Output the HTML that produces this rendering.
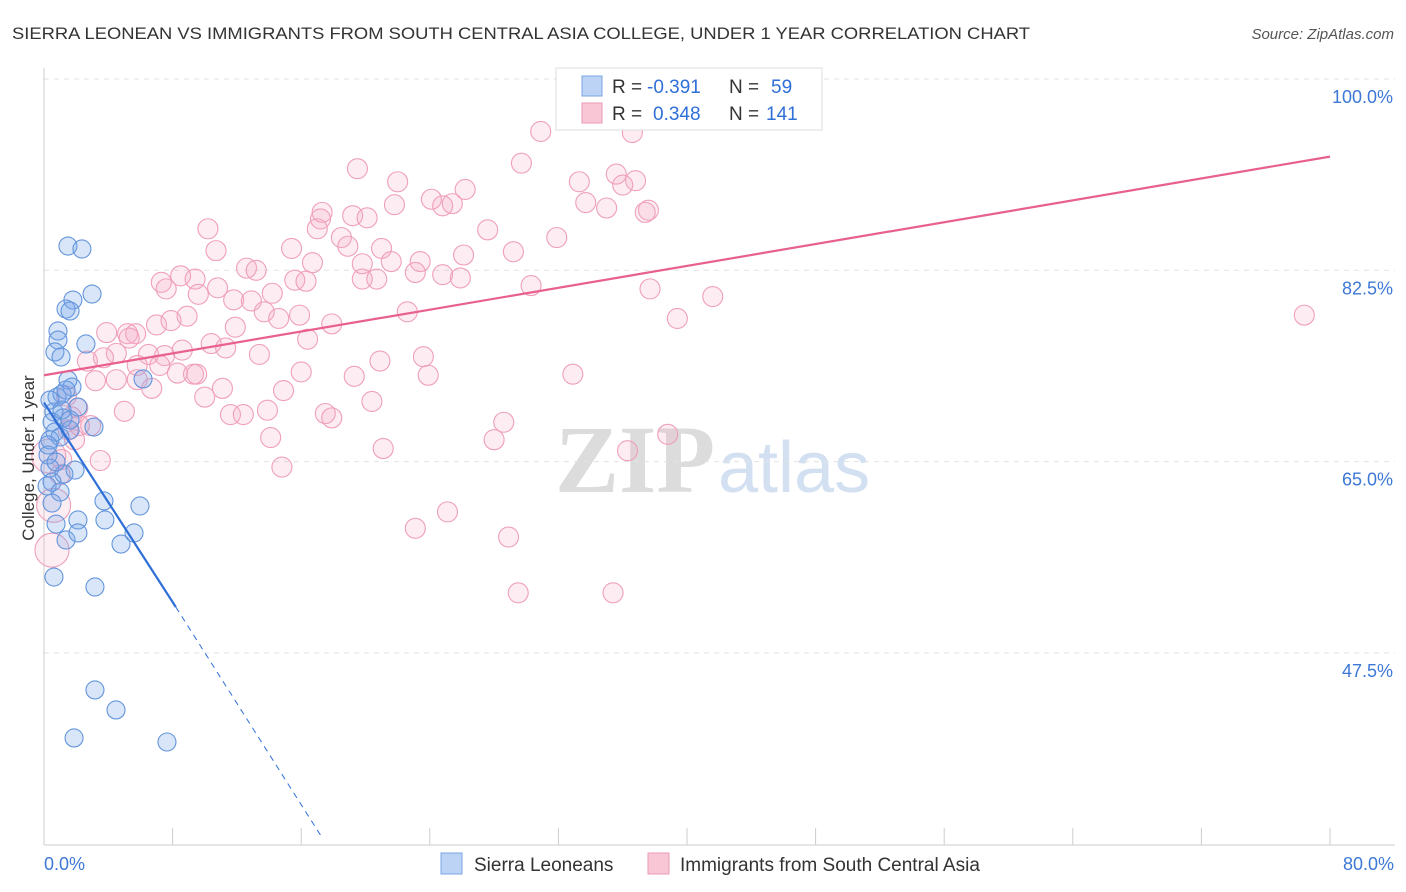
<!DOCTYPE html>
<html><head><meta charset="utf-8"><style>
body{margin:0;background:#fff;font-family:"Liberation Sans",sans-serif}
svg{display:block}
</style></head><body>
<svg id="chart" width="1406" height="892" viewBox="0 0 1406 892" xmlns="http://www.w3.org/2000/svg">
<text x="12" y="39" font-size="17" fill="#333" textLength="1018" lengthAdjust="spacingAndGlyphs">SIERRA LEONEAN VS IMMIGRANTS FROM SOUTH CENTRAL ASIA COLLEGE, UNDER 1 YEAR CORRELATION CHART</text>
<text x="1394" y="39" font-size="15" fill="#555" font-style="italic" text-anchor="end">Source: ZipAtlas.com</text>
<g>
<text x="555" y="492" font-size="96" font-family="Liberation Serif,serif" fill="#dcdcdc" font-weight="bold">ZIP</text>
<text x="718" y="492" font-size="72" fill="#d3e0f2">atlas</text>
</g>
<g id="grid"></g>
<g id="axes"></g>
<g id="pink"></g>
<g id="blue"></g>
<g id="lines"></g>
<text transform="translate(34,458) rotate(-90)" font-size="17" fill="#333" text-anchor="middle">College, Under 1 year</text>
<g>
<rect x="556" y="68" width="266" height="62" fill="#fff" stroke="#ddd"/>
<rect x="582" y="76" width="20" height="20" fill="#bcd3f5" stroke="#7aa5e3"/>
<rect x="582" y="103" width="20" height="20" fill="#f9c6d6" stroke="#eb9ab4"/>
<text x="612" y="93" font-size="19" fill="#333">R =</text>
<text x="647" y="93" font-size="19" fill="#2f6fd8">-0.391</text>
<text x="729" y="93" font-size="19" fill="#333">N =</text>
<text x="771" y="93" font-size="19" fill="#2f6fd8">59</text>
<text x="612" y="120" font-size="19" fill="#333">R =</text>
<text x="653" y="120" font-size="19" fill="#2f6fd8">0.348</text>
<text x="729" y="120" font-size="19" fill="#333">N =</text>
<text x="766" y="120" font-size="19" fill="#2f6fd8">141</text>
</g>
<g>
<rect x="441" y="853" width="21" height="21" fill="#bcd3f5" stroke="#7aa5e3"/>
<text x="474" y="871" font-size="19" fill="#333">Sierra Leoneans</text>
<rect x="648" y="853" width="21" height="21" fill="#f9c6d6" stroke="#eb9ab4"/>
<text x="680" y="871" font-size="19" fill="#333">Immigrants from South Central Asia</text>
</g>
</svg>
<script>
const yTicks=[100,82.5,65,47.5];
const yTickLabels=["100.0%","82.5%","65.0%","47.5%"];
const xTickLabels=["0.0%","80.0%"];
const blueX=[1.49,2.36,2.99,1.80,1.37,1.62,0.87,0.87,2.61,0.68,1.06,1.49,1.74,0.81,1.12,2.11,0.62,1.18,0.50,3.11,0.68,1.00,1.62,0.37,0.25,1.93,0.37,1.24,0.50,3.73,5.97,0.75,2.11,3.79,1.37,2.11,4.79,5.60,0.62,3.17,3.17,4.48,1.87,7.65,6.16,0.19,1.00,0.37,1.37,0.25,0.75,1.12,1.62,0.50];
const blueY=[84.72,84.45,80.33,79.78,78.96,78.78,76.95,76.12,75.76,75.03,74.57,72.46,71.82,70.91,71.18,69.99,69.54,68.99,68.62,68.16,67.71,67.25,67.89,66.98,65.60,64.23,64.41,63.87,63.13,61.40,60.94,59.29,59.66,59.66,57.83,58.47,57.46,58.47,54.44,53.53,44.11,42.28,39.72,39.35,72.56,62.77,62.22,70.63,71.55,66.52,64.96,69.72,68.81,61.21];
const pinkX=[30.9,36.6,29.7,19.5,35.6,22.0,33.3,36.8,26.2,36.0,24.1,25.4,24.8,21.8,33.7,35.0,37.6,37.4,17.3,17.2,19.2,20.1,17.0,10.2,27.6,18.5,31.9,18.9,15.4,10.7,21.0,29.2,26.1,23.4,16.7,19.8,21.6,12.6,13.2,8.5,7.3,9.4,24.8,25.9,23.1,15.6,16.3,19.8,20.7,7.6,9.6,30.3,37.7,41.6,10.8,11.8,14.2,12.9,8.9,7.0,7.9,13.7,14.6,15.9,17.9,22.6,39.4,78.4,11.9,3.9,5.2,5.7,5.3,10.4,11.3,8.6,16.4,4.5,6.5,7.5,13.4,3.7,2.7,5.8,20.9,23.6,7.2,8.3,9.5,9.3,16.0,19.3,23.9,32.9,3.2,4.5,5.8,6.7,11.1,10.0,14.9,20.4,5.0,11.6,12.4,13.9,17.5,17.9,28.6,2.1,2.9,1.7,1.5,14.1,28.0,38.8,21.1,36.3,3.5,1.1,1.0,14.8,25.1,23.1,28.9,29.5,35.4,1.4,2.2,1.9];
const pinkY=[95.2,95.1,92.3,91.8,91.3,90.6,90.6,90.7,89.9,90.3,89.0,88.6,88.4,88.5,88.7,88.2,88.0,87.8,87.8,87.2,87.5,87.3,86.3,86.3,86.2,85.5,85.5,84.7,84.5,84.3,84.5,84.2,83.9,83.3,83.2,83.1,83.3,82.7,82.5,82.0,81.4,81.7,82.1,81.8,82.3,81.6,81.5,81.7,81.7,80.8,80.3,81.1,80.8,80.1,80.9,79.8,80.4,79.7,78.3,77.5,77.9,78.7,78.1,78.4,77.6,78.7,78.1,78.4,77.3,76.8,76.7,76.7,76.3,75.8,75.4,75.2,76.2,74.9,74.8,74.7,74.8,74.5,74.2,73.8,74.2,74.6,73.8,73.1,73.0,73.0,73.2,72.8,72.9,73.0,72.4,72.5,72.5,71.7,71.7,70.9,71.5,70.5,69.6,69.3,69.3,69.7,69.4,69.0,68.6,69.9,68.3,69.1,67.9,67.2,67.0,67.5,66.2,66.0,65.1,65.2,63.8,64.5,60.4,58.9,58.1,53.0,53.0,71.0,68.3,67.0];
const bigPinkX=[0.6,0.5,0.3];
const bigPinkY=[61.0,56.9,65.5];
const pinkTrend=[[0,72.9],[80,92.9]];
const blueTrend=[[0,70.4],[8.2,51.7]];
const blueTrendExt=[[8.2,51.7],[17.3,30.6]];

const NS="http://www.w3.org/2000/svg";
const sx=v=>44+v*(1286/80);
const sy=v=>79+(100-v)*(191.3/17.5);
function mk(tag,attrs,parent){const e=document.createElementNS(NS,tag);for(const k in attrs)e.setAttribute(k,attrs[k]);parent.appendChild(e);return e;}
const grid=document.getElementById('grid'),axes=document.getElementById('axes');
yTicks.forEach((t,i)=>{
  const g=mk('line',{x1:44,x2:1395,y1:sy(t),y2:sy(t),stroke:'#e2e2e2','stroke-dasharray':'5,5'},grid);
  
  
  const l=mk('text',{x:1393,y:sy(t)+24,'font-size':18,fill:'#3d78d6','text-anchor':'end'},axes);
  l.textContent=yTickLabels[i];
  
  
});
const xa=mk('line',{x1:44,x2:1395,y1:845,y2:845,stroke:'#ccc'},axes);


const ya=mk('line',{x1:44,x2:44,y1:68,y2:845,stroke:'#ccc'},axes);


for(let v=8;v<=80;v+=8){
  const t=mk('line',{x1:sx(v),x2:sx(v),y1:828,y2:845,stroke:'#ccc'},axes);
  
  
}
[[0,'start',44],[80,'end',1394]].forEach((d,i)=>{
  const l=mk('text',{x:d[2],y:870,'font-size':18,fill:'#3d78d6','text-anchor':d[1]},axes);
  l.textContent=xTickLabels[i];
  
  
});
const pink=document.getElementById('pink'),blue=document.getElementById('blue');
pinkX.forEach((x,i)=>{
  const c=mk('circle',{cx:sx(x),cy:sy(pinkY[i]),r:10,fill:'rgba(246,170,195,0.22)',stroke:'#ef9fb9','stroke-width':1.1},pink);
  
  
});
bigPinkX.forEach((x,i)=>{
  const c=mk('circle',{cx:sx(x),cy:sy(bigPinkY[i]),r:17,fill:'rgba(246,170,195,0.2)',stroke:'#ef9fb9','stroke-width':1.1},pink);
  
  
});
blueX.forEach((x,i)=>{
  const c=mk('circle',{cx:sx(x),cy:sy(blueY[i]),r:9,fill:'rgba(120,165,235,0.28)',stroke:'#6395dc','stroke-width':1.1},blue);
  
  
});
const lines=document.getElementById('lines');
const pl=mk('line',{x1:sx(pinkTrend[0][0]),y1:sy(pinkTrend[0][1]),x2:sx(pinkTrend[1][0]),y2:sy(pinkTrend[1][1]),stroke:'#e8608f','stroke-width':2.2},lines);


const bl=mk('line',{x1:sx(blueTrend[0][0]),y1:sy(blueTrend[0][1]),x2:sx(blueTrend[1][0]),y2:sy(blueTrend[1][1]),stroke:'#2f6fd8','stroke-width':2.2},lines);


const bd=mk('line',{x1:sx(blueTrendExt[0][0]),y1:sy(blueTrendExt[0][1]),x2:sx(blueTrendExt[1][0]),y2:sy(blueTrendExt[1][1]),stroke:'#2f6fd8','stroke-width':1,'stroke-dasharray':'6,5'},lines);


</script>
</body></html>
